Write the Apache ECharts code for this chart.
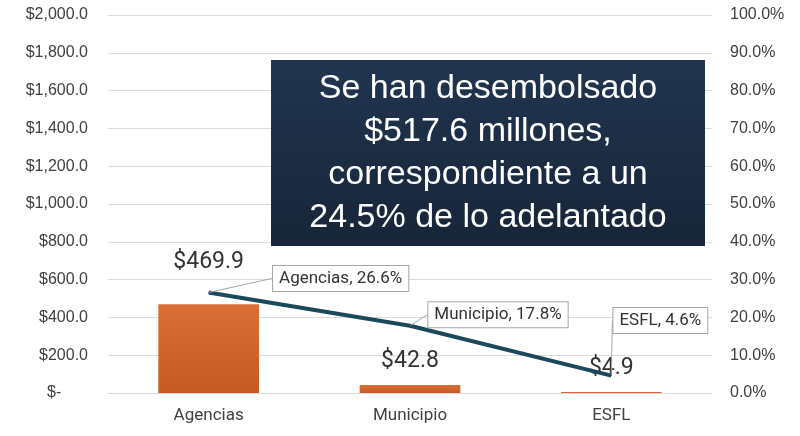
<!DOCTYPE html>
<html>
<head>
<meta charset="utf-8">
<script src="https://cdn.jsdelivr.net/npm/echarts@6/dist/echarts.min.js"></script>
<style>
  html, body { margin: 0; padding: 0; background: #fff; }
  #chart { width: 800px; height: 436px; }
</style>
</head>
<body>
<div id="chart"></div>
<script>
"use strict";

var categories = ['Agencias', 'Municipio', 'ESFL'];
var montos = [469.9, 42.8, 4.9];
var porcentajes = [26.6, 17.8, 4.6];
var mensaje = ['Se han desembolsado', '$517.6 millones,', 'correspondiente a un', '24.5% de lo adelantado'];

var chart = echarts.init(document.getElementById('chart'));

var narrow = "'Liberation Sans Narrow', 'Roboto', sans-serif";
var sans = "'Liberation Sans', Arial, sans-serif";

// offsets de las etiquetas del porcentaje (dx, dy)
var pctOffsets = [[132, -14], [88, -11], [49, -55]];
var barLabelDist = [30, 12, 12];

var option = {
    animation: false,
    grid: {
        left: 108,
        right: 88,
        top: 15,
        bottom: 43
    },
    xAxis: {
        type: 'category',
        data: categories,
        axisLine: { show: true, lineStyle: { color: '#d9d9d9' } },
        axisTick: { show: false },
        axisLabel: { color: '#404040', fontSize: 17, fontFamily: narrow, margin: 14 }
    },
    yAxis: [{
        type: 'value',
        min: 0,
        max: 2000,
        interval: 200,
        axisLine: { show: false },
        axisTick: { show: false },
        splitLine: { lineStyle: { color: '#dcdcdc', width: 1 } },
        axisLabel: {
            color: '#404040',
            fontSize: 16,
            fontFamily: sans,
            margin: 20,
            formatter: function (v) {
                if (v === 0) { return '$-      '; }
                return '$' + v.toLocaleString('en-US', { minimumFractionDigits: 1 });
            }
        }
    }, {
        type: 'value',
        min: 0,
        max: 100,
        interval: 10,
        position: 'right',
        axisLine: { show: false },
        axisTick: { show: false },
        splitLine: { show: false },
        axisLabel: {
            color: '#404040',
            fontSize: 16,
            fontFamily: sans,
            margin: 18,
            formatter: function (v) { return v.toFixed(1) + '%'; }
        }
    }],
    series: [{
        name: 'Monto',
        type: 'bar',
        barWidth: '50%',
        yAxisIndex: 0,
        data: montos.map(function (v, i) {
            return {
                value: v,
                label: { distance: barLabelDist[i] }
            };
        }),
        itemStyle: {
            color: new echarts.graphic.LinearGradient(0, 0, 0, 1, [
                { offset: 0, color: '#d96f36' },
                { offset: 1, color: '#c65a24' }
            ])
        },
        label: {
            show: true,
            position: 'top',
            color: '#333',
            fontSize: 23,
            fontFamily: narrow,
            formatter: function (p) { return '$' + p.value.toFixed(1); }
        },
        z: 2
    }, {
        name: 'Porcentaje',
        type: 'line',
        yAxisIndex: 1,
        data: porcentajes,
        symbol: 'circle',
        symbolSize: 1,
        showSymbol: true,
        itemStyle: { color: '#1a495b' },
        lineStyle: { color: '#1a495b', width: 4 },
        label: {
            show: true,
            position: 'inside',
            color: '#333',
            fontSize: 17,
            fontFamily: narrow,
            backgroundColor: '#fff',
            borderColor: '#a6a6a6',
            borderWidth: 1,
            padding: [4, 6, 4, 6],
            formatter: function (p) { return p.name + ', ' + p.value.toFixed(1) + '%'; }
        },
        labelLine: {
            show: true,
            lineStyle: { color: '#a6a6a6', width: 1 }
        },
        labelLayout: function (params) {
            var o = pctOffsets[params.dataIndex];
            return { dx: o[0], dy: o[1] };
        },
        z: 3
    }],
    graphic: [{
        type: 'group',
        left: 271,
        top: 60,
        children: [{
            type: 'rect',
            z: 100,
            shape: { x: 0, y: 0, width: 434, height: 186 },
            style: {
                fill: new echarts.graphic.LinearGradient(0, 0, 0, 1, [
                    { offset: 0, color: '#213550' },
                    { offset: 1, color: '#172538' }
                ])
            }
        }, {
            type: 'text',
            z: 101,
            x: 217,
            y: 7,
            style: {
                text: mensaje.join('\n'),
                fill: '#fff',
                fontSize: 34,
                lineHeight: 43,
                fontFamily: sans,
                align: 'center',
                verticalAlign: 'top'
            }
        }]
    }]
};

chart.setOption(option);
</script>
</body>
</html>
